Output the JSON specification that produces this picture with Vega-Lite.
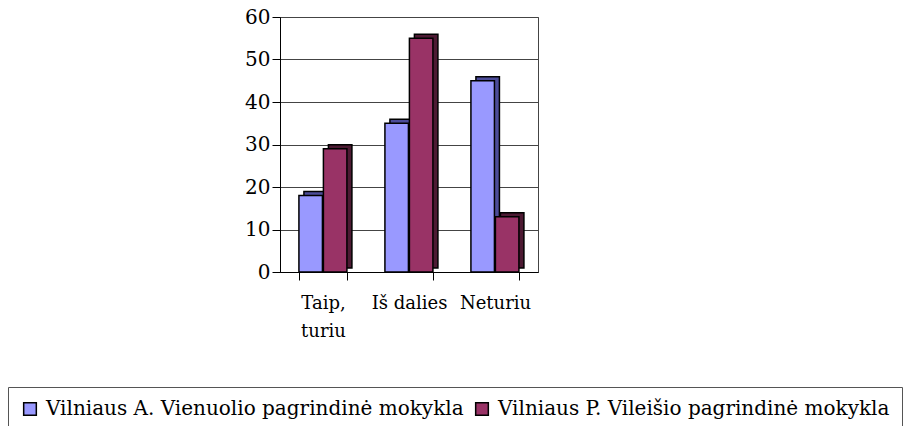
{
  "$schema": "https://vega.github.io/schema/vega-lite/v6.json",
  "autosize": "none",
  "width": 258,
  "height": 255,
  "padding": {"left": 280, "top": 17, "right": 369, "bottom": 154},
  "background": "white",
  "config": {
    "font": "DejaVu Serif",
    "view": {"stroke": "#444444"}
  },
  "data": {
    "values": [
      {"category": "Taip, turiu", "school": "Vilniaus A. Vienuolio pagrindinė mokykla", "value": 18},
      {"category": "Taip, turiu", "school": "Vilniaus P. Vileišio pagrindinė mokykla", "value": 29},
      {"category": "Iš dalies", "school": "Vilniaus A. Vienuolio pagrindinė mokykla", "value": 35},
      {"category": "Iš dalies", "school": "Vilniaus P. Vileišio pagrindinė mokykla", "value": 55},
      {"category": "Neturiu", "school": "Vilniaus A. Vienuolio pagrindinė mokykla", "value": 45},
      {"category": "Neturiu", "school": "Vilniaus P. Vileišio pagrindinė mokykla", "value": 13}
    ]
  },
  "encoding": {
    "x": {
      "field": "category",
      "type": "nominal",
      "sort": ["Taip, turiu", "Iš dalies", "Neturiu"],
      "scale": {"paddingInner": 0.44, "paddingOuter": 0.22},
      "axis": {
        "title": null,
        "labelAngle": 0,
        "labelFont": "DejaVu Serif",
        "labelFontSize": 18,
        "labelColor": "black",
        "labelPadding": 14,
        "labelExpr": "datum.label == 'Taip, turiu' ? ['Taip,', 'turiu'] : datum.label",
        "labelLineHeight": 28,
        "tickBand": "extent",
        "tickSize": 8,
        "tickColor": "black",
        "domainColor": "black",
        "labelOverlap": false,
        "labelBaseline": "top"
      }
    },
    "y": {
      "field": "value",
      "type": "quantitative",
      "scale": {"domain": [0, 60]},
      "axis": {
        "title": null,
        "values": [0, 10, 20, 30, 40, 50, 60],
        "labelFont": "DejaVu Serif",
        "labelFontSize": 20,
        "labelColor": "black",
        "labelPadding": 2,
        "tickSize": 8,
        "tickColor": "black",
        "domainColor": "black",
        "gridColor": "#444444",
        "gridWidth": 1
      }
    }
  },
  "layer": [
    {
      "mark": {"type": "bar", "stroke": "black", "strokeWidth": 1.5, "yOffset": -4},
      "encoding": {
        "xOffset": {
          "field": "school",
          "type": "nominal",
          "scale": {"paddingInner": 0.04, "range": [5, 53]}
        },
        "color": {
          "field": "school",
          "type": "nominal",
          "scale": {"range": ["#4C4C99", "#4D1A33"]},
          "legend": null
        }
      }
    },
    {
      "mark": {"type": "bar", "stroke": "black", "strokeWidth": 1.5},
      "encoding": {
        "xOffset": {
          "field": "school",
          "type": "nominal",
          "scale": {"paddingInner": 0.04, "range": [0, 48]}
        },
        "color": {
          "field": "school",
          "type": "nominal",
          "scale": {"range": ["#9999FF", "#993366"]},
          "legend": {
            "title": null,
            "orient": "none",
            "legendX": -272,
            "legendY": 370,
            "direction": "horizontal",
            "labelFont": "DejaVu Serif",
            "labelFontSize": 20,
            "labelColor": "black",
            "labelOffset": 6,
            "symbolType": "square",
            "symbolSize": 160,
            "symbolStrokeColor": "black",
            "symbolStrokeWidth": 1.5,
            "strokeColor": "#555555",
            "padding": 12,
            "columnPadding": 8,
            "labelLimit": 600
          }
        }
      }
    }
  ],
  "resolve": {"scale": {"color": "independent", "xOffset": "independent"}}
}
